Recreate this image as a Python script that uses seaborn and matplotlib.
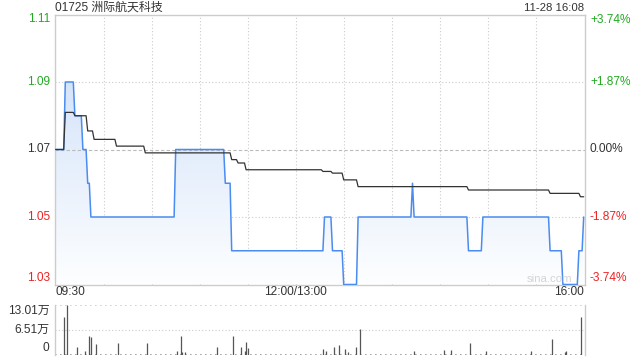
import numpy as np
import pandas as pd
import seaborn as sns
import matplotlib
matplotlib.use("Agg")
import matplotlib.pyplot as plt
from matplotlib.colors import LinearSegmentedColormap
from matplotlib import transforms

# ---------------- data ----------------
title = "01725 洲际航天科技"
stamp = "11-28 16:08"
prev_close = 1.07

# price per minute as run-lengths (level, number of minutes)
price_levels = [1.07, 1.09, 1.08, 1.07, 1.06, 1.05, 1.07, 1.06, 1.04, 1.05, 1.04,
                1.03, 1.05, 1.06, 1.05, 1.04, 1.05, 1.04, 1.03, 1.04, 1.05]
price_runs = [6, 6, 5, 3, 2, 53, 31, 4, 58, 5, 7,
              9, 34, 1, 34, 9, 42, 8, 10, 3, 1]

# average price per minute as run-lengths
avg_levels = [1.07, 1.081, 1.080, 1.0755, 1.073, 1.071, 1.069, 1.067, 1.066,
              1.064, 1.0635, 1.063, 1.061, 1.059, 1.058, 1.057, 1.056]
avg_runs = [6, 6, 8, 4, 14, 18, 54, 4, 5, 48, 6, 7, 9, 69, 51, 19, 3]

vol_minutes = [5, 7, 13, 18, 21, 22, 25, 39, 57, 76, 78, 79, 81, 101, 111, 116,
               118, 119, 120, 167, 169, 174, 177, 181, 183, 188, 190, 224, 243,
               247, 259, 269, 297, 310, 318, 319, 328]
vol_values = [98100, 130100, 20800, 10400, 50300, 47600, 28600, 30400, 30400,
              10400, 50300, 9000, 7000, 20800, 50300, 20800, 10400, 33800, 18000,
              16400, 10400, 20800, 26000, 15600, 7000, 20800, 68500, 10400, 13000,
              13000, 31200, 10400, 10400, 42400, 7000, 10400, 98900]

price_ticks = [1.11, 1.09, 1.07, 1.05, 1.03]
price_labels = ["1.11", "1.09", "1.07", "1.05", "1.03"]
pct_labels = ["+3.74%", "+1.87%", "0.00%", "-1.87%", "-3.74%"]
time_ticks = [0, 150, 330]
time_labels = ["09:30", "12:00/13:00", "16:00"]
vol_ticks = [130100, 65100, 0]
vol_labels = ["13.01万", "6.51万", "0"]

# ---------------- style ----------------
sns.set_theme(style="white")
plt.rcParams["font.family"] = ["Liberation Sans", "Noto Sans CJK SC", "DejaVu Sans"]

GREEN = "#22aa22"
RED = "#ee2222"
DARK = "#333333"
FRAME = "#cccccc"
GRID = "#cccccc"

price = np.repeat(price_levels, price_runs)
avg = np.repeat(avg_levels, avg_runs)
df = pd.DataFrame({"minute": np.arange(len(price)), "price": price, "avg": avg})
vdf = pd.DataFrame({"minute": vol_minutes, "volume": vol_values})

fig = plt.figure(figsize=(6.4, 3.6), dpi=100)
ax = fig.add_axes([54.5 / 640, 75.5 / 360, 530 / 640, 270 / 360])
axv = fig.add_axes([54.5 / 640, 5 / 360, 530 / 640, 50 / 360])

XMIN, XMAX = -0.75, 330.5
YMIN, YMAX = 1.03, 1.11

# gradient fill under the price line
cmap = LinearSegmentedColormap.from_list("g", ["#fdfeff", "#c9dcf8"])
grad = np.linspace(0, 1, 256).reshape(-1, 1)
im = ax.imshow(grad, extent=[XMIN, XMAX, YMIN, YMAX], origin="lower",
               aspect="auto", cmap=cmap, zorder=1, interpolation="bilinear")
poly = ax.fill_between(df["minute"], df["price"], YMIN, facecolor="none",
                       edgecolor="none")
im.set_clip_path(poly.get_paths()[0], transform=ax.transData)

sns.lineplot(data=df, x="minute", y="price", ax=ax, color="#4a8cf0",
             linewidth=1.1, zorder=4)
sns.lineplot(data=df, x="minute", y="avg", ax=ax, color="#333333",
             linewidth=0.9, zorder=5)

ax.set_xlim(XMIN, XMAX)
ax.set_ylim(YMIN, YMAX)
ax.set_xlabel("")
ax.set_ylabel("")
ax.set_xticks([])
ax.set_yticks([])
ax.set_xticks(np.arange(30, 330, 30), minor=True)
ax.set_yticks([1.09, 1.05], minor=True)
ax.tick_params(which="both", length=0, labelbottom=False, labelleft=False)
ax.grid(which="minor", color=GRID, linestyle=(0, (1, 2)), linewidth=0.8)
ax.axhline(prev_close, color="#bbbbbb", linestyle=(0, (3, 2)), linewidth=0.8,
           zorder=2)
for s in ax.spines.values():
    s.set_color(FRAME)
    s.set_linewidth(1.0)

# price labels (left) and percent labels (right)
blend = transforms.blended_transform_factory(ax.transAxes, ax.transData)
dpi = fig.dpi
for i, (v, lab, pct) in enumerate(zip(price_ticks, price_labels, pct_labels)):
    if v > prev_close + 1e-9:
        c = GREEN
    elif v < prev_close - 1e-9:
        c = RED
    else:
        c = DARK
    dy_l = {0: -4.5, 4: 6.5}.get(i, 0)
    dy_r = {0: -5.5, 4: 6.2}.get(i, 0)
    tl = transforms.offset_copy(blend, fig=fig, x=-4.5, y=dy_l, units="dots")
    tr = transforms.offset_copy(blend, fig=fig, x=5.5, y=dy_r, units="dots")
    ax.text(0, v, lab, transform=tl, ha="right", va="center", fontsize=8.6,
            color=c)
    ax.text(1, v, pct, transform=tr, ha="left", va="center", fontsize=8.6,
            color=c)

# time labels
tblend = transforms.blended_transform_factory(ax.transData, ax.transAxes)
tt = transforms.offset_copy(tblend, fig=fig, x=0, y=-7.8, units="dots")
for m, lab, ha in zip(time_ticks, time_labels, ["left", "center", "right"]):
    ax.text(m, 0, lab, transform=tt, ha=ha, va="center", fontsize=8.6,
            color=DARK)

# watermark
ax.text(0.978, 0.02, "sina.com", transform=ax.transAxes, ha="right",
        va="center", fontsize=8.2, color="#d4d4d4", zorder=6)

# title and timestamp
fig.text(55 / 640, 1 - 7.8 / 360, title, ha="left", va="center",
         fontsize=8.6, color=DARK)
fig.text(584 / 640, 1 - 7.8 / 360, stamp, ha="right", va="center",
         fontsize=8.2, color=DARK)

# ---------------- volume panel ----------------
axv.vlines(vdf["minute"], 0, vdf["volume"], color="#555555", linewidth=0.9,
           zorder=3)
axv.set_xlim(XMIN, XMAX)
axv.set_ylim(0, vol_ticks[0])
axv.set_xticks([])
axv.set_yticks([])
axv.set_yticks([vol_ticks[1]], minor=True)
axv.tick_params(which="both", length=0, labelbottom=False, labelleft=False)
axv.grid(which="minor", axis="y", color=GRID, linestyle=(0, (1, 2)),
         linewidth=0.8)
axv.axhline(vol_ticks[0], color=GRID, linestyle=(0, (1, 2)), linewidth=1.2,
            zorder=2)
axv.axhline(0, color="#999999", linestyle=(0, (1, 2)), linewidth=1.2, zorder=2)
axv.spines["top"].set_visible(False)
axv.spines["bottom"].set_visible(False)
for k in ("left", "right"):
    axv.spines[k].set_color(FRAME)
    axv.spines[k].set_linewidth(1.0)

vblend = transforms.blended_transform_factory(axv.transAxes, axv.transData)
for i, (v, lab) in enumerate(zip(vol_ticks, vol_labels)):
    dy = {0: -6.0, 2: 7.3}.get(i, 0)
    tv = transforms.offset_copy(vblend, fig=fig, x=-5.2, y=dy, units="dots")
    axv.text(0, v, lab, transform=tv, ha="right", va="center", fontsize=8.6,
             color=DARK)

fig.savefig("out.png", dpi=100)
